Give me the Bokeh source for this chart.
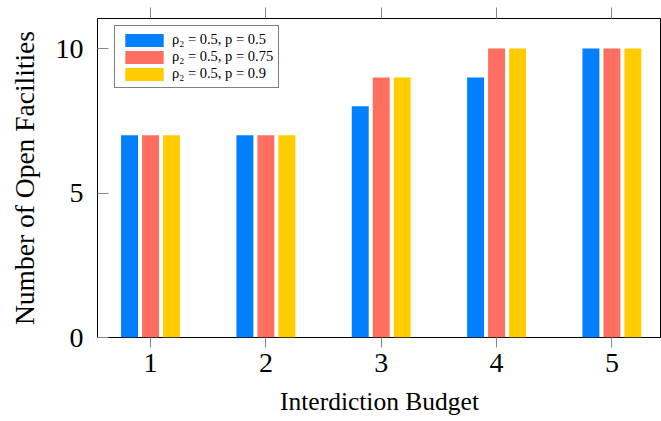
from bokeh.plotting import figure
from bokeh.models import ColumnDataSource, FixedTicker, LinearAxis, Legend, LegendItem, Range1d
from bokeh.transform import dodge
from bokeh.embed import file_html
from bokeh.resources import INLINE

budgets = [1, 2, 3, 4, 5]
series_p05 = [7, 7, 8, 9, 10]
series_p075 = [7, 7, 9, 10, 10]
series_p09 = [7, 7, 9, 10, 10]
labels = ["ρ\u2082 = 0.5, p = 0.5", "ρ\u2082 = 0.5, p = 0.75", "ρ\u2082 = 0.5, p = 0.9"]
colors = ["#0080FF", "#FF6F61", "#FFCC00"]

src = ColumnDataSource(dict(x=budgets, a=series_p05, b=series_p075, c=series_p09))

FONT = "Liberation Serif"

p = figure(width=661, height=421, output_backend="svg", toolbar_location=None,
           x_range=Range1d(0.54, 5.43), y_range=Range1d(0, 11.04),
           min_border_left=97, min_border_top=18, min_border_right=0, min_border_bottom=84)
p.grid.visible = False
p.outline_line_color = "black"
p.outline_line_width = 1
p.background_fill_color = "white"
p.border_fill_color = "white"

offs = [-0.182, 0.0, 0.182]
renderers = []
for key, off, col in zip(["a", "b", "c"], offs, colors):
    r = p.vbar(x=dodge("x", off), top=key, width=0.147, bottom=0, source=src,
               fill_color=col, line_color=None)
    renderers.append(r)

xa = p.xaxis[0]
xa.ticker = FixedTicker(ticks=budgets)
xa.axis_label = "Interdiction Budget"
ya = p.yaxis[0]
ya.ticker = FixedTicker(ticks=[0, 5, 10])
ya.axis_label = "Number of Open Facilities"

for ax in (xa, ya):
    ax.axis_line_color = None
    ax.major_tick_line_color = "#888888"
    ax.minor_tick_line_color = None
    ax.major_label_text_font = FONT
    ax.major_label_text_font_size = "28px"
    ax.major_label_text_color = "black"
    ax.axis_label_text_font = FONT
    ax.axis_label_text_font_style = "normal"
    ax.axis_label_text_color = "black"

xa.axis_label_text_font_size = "25.5px"
ya.axis_label_text_font_size = "27.5px"

xa.major_tick_in = 0
xa.major_tick_out = 10
xa.major_label_standoff = 6
xa.axis_label_standoff = 12

ya.major_tick_in = 11
ya.major_tick_out = 0
ya.major_label_standoff = 14
ya.axis_label_standoff = 13

top = LinearAxis(ticker=FixedTicker(ticks=budgets), major_label_text_font_size="1px",
                 major_label_overrides={b: "" for b in budgets},
                 axis_line_color=None, major_tick_line_color="#888888", minor_tick_line_color=None,
                 major_tick_in=0, major_tick_out=11, major_label_standoff=0)
p.add_layout(top, "above")

legend = Legend(items=[LegendItem(label=l, renderers=[r]) for l, r in zip(labels, renderers)],
                location=(17, 249))
legend.glyph_width = 48
legend.glyph_height = 16
legend.label_height = 16
legend.spacing = 0
legend.padding = 5
legend.margin = 0
legend.label_standoff = 4
legend.label_text_font = FONT
legend.label_text_font_size = "14.5px"
legend.label_text_font_style = "normal"
legend.label_text_color = "black"
legend.border_line_color = "black"
legend.border_line_width = 1
legend.background_fill_alpha = 1
p.add_layout(legend, "center")

open("out.html", "w").write(file_html(p, INLINE))
